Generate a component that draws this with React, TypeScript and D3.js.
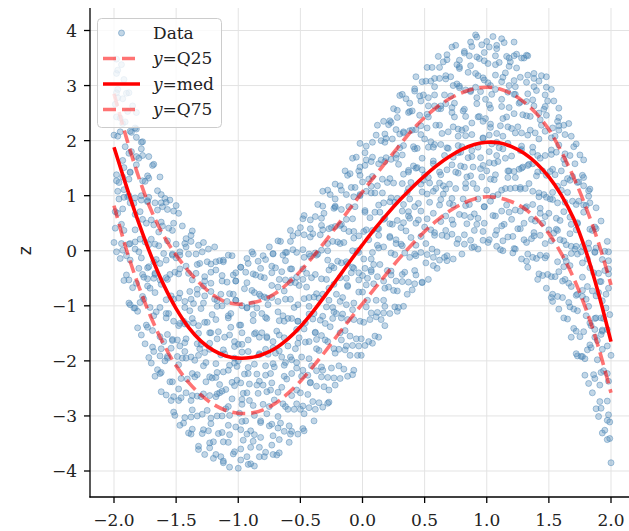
import React from "react";
import * as d3 from "d3";

const W = 629;
const H = 531;

const X_TICKS = [-2, -1.5, -1, -0.5, 0, 0.5, 1, 1.5, 2];
const Y_TICKS = [-4, -3, -2, -1, 0, 1, 2, 3, 4];

const CURVE_X = [
  -2.0, -1.9, -1.8, -1.7, -1.6, -1.5, -1.4, -1.3, -1.2, -1.1, -1.0, -0.9, -0.8, -0.7,
  -0.6, -0.5, -0.4, -0.3, -0.2, -0.1, 0.0, 0.1, 0.2, 0.3, 0.4, 0.5, 0.6, 0.7, 0.8, 0.9,
  1.0, 1.1, 1.2, 1.3, 1.4, 1.5, 1.6, 1.7, 1.8, 1.9, 2.0,
];
const MED = [
  1.88, 1.17, 0.5, -0.1, -0.62, -1.05, -1.39, -1.64, -1.81, -1.91, -1.95, -1.94, -1.88, -1.77,
  -1.6, -1.38, -1.11, -0.81, -0.5, -0.19, 0.11, 0.4, 0.67, 0.92, 1.15, 1.36, 1.55, 1.71, 1.84, 1.93,
  1.97, 1.96, 1.89, 1.77, 1.59, 1.34, 1.01, 0.58, -0.02, -0.78, -1.65,
];
const Q75 = [
  2.85, 2.05, 1.33, 0.73, 0.27, -0.08, -0.37, -0.61, -0.81, -0.93, -0.97, -0.95, -0.89, -0.77,
  -0.59, -0.37, -0.11, 0.17, 0.47, 0.77, 1.07, 1.36, 1.64, 1.92, 2.19, 2.42, 2.61, 2.76, 2.87, 2.94,
  2.97, 2.94, 2.85, 2.7, 2.49, 2.2, 1.8, 1.33, 0.78, 0.14, -0.62,
];
const Q25 = [
  0.82, 0.02, -0.65, -1.22, -1.7, -2.09, -2.39, -2.62, -2.79, -2.9, -2.95, -2.95, -2.89, -2.77,
  -2.59, -2.37, -2.11, -1.83, -1.53, -1.24, -0.96, -0.68, -0.4, -0.13, 0.12, 0.35, 0.55, 0.72, 0.85, 0.94,
  0.98, 0.96, 0.89, 0.77, 0.58, 0.31, -0.05, -0.5, -1.07, -1.76, -2.58,
];

// scatter data, in hundredths: x, z, x, z, ...
const POINTS_A = [
  -200,15, -199,71, -198,127, -200,210, -199,266, -198,322, -199,41, -198,287,
  -194,338, -197,293, -195,216, -193,134, -196,94, -194,13, -197,328, -195,241, -193,164, -196,124, -194,48, -195,-14,
  -190,-44, -188,130, -192,37, -191,234, -189,98, -190,286, -188,-95, -191,189, -192,97, -189,253, -190,-9, -188,100,
  -187,143, -184,-104, -186,215, -183,3, -185,263, -187,-17, -184,86, -183,38, -186,180, -185,-67, -183,223, -187,13,
  -179,-94, -182,156, -180,-2, -178,185, -181,-140, -179,71, -182,251, -180,-32, -178,100, -181,-110, -179,21, -180,168,
  -175,126, -173,-31, -177,198, -176,-88, -174,50, -175,-169, -173,89, -176,-48, -177,173, -174,-135, -175,16, -173,-51,
  -169,155, -172,97, -170,21, -168,-50, -171,-103, -169,-175, -172,132, -170,56, -168,-20, -171,-68, -169,-145, -170,-204,
  -165,-216, -163,-156, -167,-76, -166,-16, -164,34, -165,109, -163,-191, -166,-111, -167,-41, -164,9, -165,74, -163,134,
  -162,-61, -159,-200, -161,80, -158,-114, -160,-5, -162,-256, -159,95, -158,-89, -161,45, -160,-165, -158,-49, -162,-221,
  -154,-177, -157,75, -155,-238, -153,-6, -156,-114, -154,-82, -157,-195, -155,92, -153,-161, -156,41, -154,-272, -155,-43,
  -150,12, -148,-136, -152,-265, -151,-39, -149,-192, -150,82, -148,-86, -151,-299, -152,50, -149,-162, -150,-13, -148,-251,
  -147,-173, -144,-128, -146,-267, -143,13, -145,-195, -147,-33, -144,-313, -143,-92, -146,-232, -145,45, -143,-167, -147,-8,
  -140,-331, -138,-272, -142,-195, -141,-133, -139,-74, -140,-6, -138,-302, -141,-233, -142,-160, -139,-109, -140,-41, -138,28,
  -137,36, -134,-41, -136,-96, -133,-169, -135,-229, -137,-289, -134,-6, -133,-79, -136,-131, -135,-199, -133,-264, -137,-324,
  -129,-332, -132,-136, -130,-265, -128,-64, -131,-178, -129,-2, -132,-361, -130,-105, -128,-209, -131,-23, -129,-297, -130,-170,
  -125,-130, -123,-358, -127,-47, -126,-238, -124,3, -125,-290, -123,-168, -126,-203, -127,-82, -124,-327, -125,-20, -123,-263,
  -122,-314, -119,-88, -121,-231, -118,-35, -120,-377, -122,-149, -119,7, -118,-265, -121,-116, -120,-347, -118,-205, -122,-59,
  -114,-79, -117,-221, -115,-18, -113,-300, -116,-147, -114,-374, -117,-101, -115,-258, -113,-45, -116,-332, -114,-189, -115,-243,
  -112,-17, -109,-92, -111,-157, -108,-217, -110,-287, -112,-347, -109,-57, -108,-122, -111,-187, -110,-252, -108,-317, -112,-382,
  -104,-369, -107,-299, -105,-239, -103,-174, -106,-114, -104,-44, -107,-334, -105,-269, -103,-204, -106,-139, -104,-79, -105,-9,
  -100,-200, -98,-325, -102,-55, -101,-235, -99,-135, -100,-395, -98,-30, -101,-210, -102,-90, -99,-295, -100,-170, -98,-360,
  -97,-279, -94,-39, -96,-344, -93,-104, -95,-224, -97,-184, -94,-309, -93,-14, -96,-259, -95,-69, -93,-374, -97,-149,
  -89,-72, -92,-212, -90,-357, -88,-127, -91,-272, -89,-2, -92,-162, -90,-387, -88,-42, -91,-242, -89,-97, -90,-327,
  -85,-244, -83,-189, -87,-334, -86,-44, -84,-259, -85,-104, -83,-374, -86,-149, -87,-299, -84,-19, -85,-224, -83,-79,
  -79,-374, -82,-309, -80,-244, -78,-179, -81,-114, -79,-49, -82,-339, -80,-279, -78,-209, -81,-149, -79,-84, -80,-9,
  -75,7, -73,-63, -77,-123, -76,-188, -74,-253, -75,-318, -73,-28, -76,-98, -77,-158, -74,-223, -75,-283, -73,-353,
  -72,-336, -69,-146, -71,-271, -68,-66, -70,-186, -72,-6, -69,-371, -68,-111, -71,-211, -70,-31, -68,-301, -72,-176,
  -64,-118, -67,-343, -65,-38, -63,-228, -66,17, -64,-278, -67,-153, -65,-193, -63,-73, -66,-313, -64,-8, -65,-248,
  -60,-288, -58,-58, -62,-203, -61,-3, -59,-348, -60,-123, -58,37, -61,-233, -62,-88, -59,-318, -60,-173, -58,-33,
  -57,-33, -54,-178, -56,27, -53,-253, -55,-103, -57,-328, -54,-58, -53,-213, -56,2, -55,-288, -53,-143, -57,-198,
  -50,42, -48,-33, -52,-98, -51,-158, -49,-228, -50,-288, -48,2, -51,-63, -52,-128, -49,-193, -50,-258, -48,-323,
  -47,-296, -44,-226, -46,-166, -43,-101, -45,-41, -47,29, -44,-261, -43,-196, -46,-131, -45,-66, -43,-6, -47,64,
  -39,-114, -42,-239, -40,31, -38,-149, -41,-49, -39,-309, -42,56, -40,-124, -38,-4, -41,-209, -39,-84, -40,-274,
  -35,-181, -33,59, -37,-246, -36,-6, -34,-126, -35,-86, -33,-211, -36,84, -37,-161, -34,29, -35,-276, -33,-51,
  -32,38, -29,-102, -31,-247, -28,-17, -30,-162, -32,108, -29,-52, -28,-277, -31,68, -30,-132, -28,13, -32,-217,
  -24,-123, -27,-68, -25,-213, -23,77, -26,-138, -24,17, -27,-253, -25,-28, -23,-178, -26,102, -24,-103, -25,42,
  -22,-244, -19,-179, -21,-114, -18,-49, -20,16, -22,81, -19,-209, -18,-149, -21,-79, -20,-19, -18,46, -22,121,
  -14,145, -17,75, -15,15, -13,-50, -16,-115, -14,-180, -17,110, -15,40, -13,-20, -16,-85, -14,-145, -15,-215,
  -10,-190, -8,0, -12,-125, -11,80, -9,-40, -10,140, -8,-225, -11,35, -12,-65, -9,115, -10,-155, -8,-30,
  -7,35, -4,-190, -6,115, -3,-75, -5,170, -7,-125, -4,0, -3,-40, -6,80, -5,-160, -3,145, -7,-95,
  1,-130, -2,100, 0,-45, 2,155, -1,-190, 1,35, -2,195, 0,-75, 2,70, -1,-160, 1,-15, 0,125,
  5,130, 7,-15, 3,190, 4,-90, 6,60, 5,-165, 7,105, 4,-50, 3,165, 6,-125, 5,20, 7,-35,
  11,210, 8,135, 10,70, 12,10, 9,-60, 11,-120, 8,170, 10,105, 12,40, 9,-25, 11,-90, 10,-155,
  15,-125, 17,-55, 13,5, 14,70, 16,130, 15,200, 17,-90, 14,-25, 13,40, 16,105, 15,165, 17,235,
  18,59, 21,-66, 19,204, 22,24, 20,124, 18,-136, 21,229, 22,49, 19,169, 20,-36, 22,89, 18,-101,
  26,-7, 23,233, 25,-72, 27,168, 24,48, 26,88, 23,-37, 25,258, 27,13, 24,203, 26,-102, 25,123,
  30,212, 32,72, 28,-73, 29,157, 31,12, 30,282, 32,122, 29,-103, 28,242, 31,42, 30,187, 32,-43,
  33,51, 36,106, 34,-39, 37,251, 35,36, 33,191, 36,-79, 37,146, 34,-4, 35,276, 37,71, 33,216,
  40,-71, 42,-6, 38,59, 39,124, 41,189, 40,254, 42,-36, 39,24, 38,94, 41,154, 40,219, 42,294,
  43,316, 46,246, 44,186, 47,121, 45,56, 43,-9, 46,281, 47,211, 44,151, 45,86, 47,26, 43,-44,
  51,-22, 48,168, 50,43, 52,248, 49,128, 51,308, 48,-57, 50,203, 52,103, 49,283, 51,13, 50,138,
  55,198, 57,-27, 53,278, 54,88, 56,333, 55,38, 57,163, 54,123, 53,243, 56,3, 55,308, 57,68,
  58,28, 61,258, 59,113, 62,313, 60,-32, 58,193, 61,353, 62,83, 59,228, 60,-2, 62,143, 58,283,
  66,283, 63,138, 65,343, 67,63, 64,213, 66,-12, 63,258, 65,103, 67,318, 64,28, 66,173, 65,118,
  68,356, 71,281, 69,216, 72,156, 70,86, 68,26, 71,316, 72,251, 69,186, 70,121, 72,56, 68,-9,
  76,13, 73,83, 75,143, 77,208, 74,268, 76,338, 73,48, 75,113, 77,178, 74,243, 76,303, 75,373,
  80,189, 82,64, 78,334, 79,154, 81,254, 80,-6, 82,359, 79,179, 78,299, 81,94, 80,219, 82,29,
  83,114, 86,354, 84,49, 87,289, 85,169, 83,209, 86,84, 87,379, 84,134, 85,324, 87,19, 83,244,
  91,322, 88,182, 90,37, 92,267, 89,122, 91,392, 88,232, 90,7, 92,352, 89,152, 91,297, 90,67,
  95,149, 97,204, 93,59, 94,349, 96,134, 95,289, 97,19, 94,244, 93,94, 96,374, 95,169, 97,314,
  101,15, 98,80, 100,145, 102,210, 99,275, 101,340, 98,50, 100,110, 102,180, 99,240, 101,305, 100,380,
  105,389, 107,319, 103,259, 104,194, 106,129, 105,64, 107,354, 104,284, 103,224, 106,159, 105,99, 107,29,
  108,37, 111,227, 109,102, 112,307, 110,187, 108,367, 111,2, 112,262, 109,162, 110,342, 112,72, 108,197,
  116,243, 113,18, 115,323, 117,133, 114,378, 116,83, 113,208, 115,168, 117,288, 114,48, 116,353, 115,113,
  120,57, 122,284, 118,145, 119,343, 121,-4, 120,222, 122,379, 119,113, 118,260, 121,26, 120,172, 122,309,
  123,298, 126,148, 124,357, 127,72, 125,225, 123,3, 126,268, 127,112, 124,332, 125,40, 127,182, 123,133,
  130,350, 132,271, 128,214, 129,152, 131,78, 130,20, 132,306, 129,247, 128,184, 131,113, 130,50, 132,-19,
  133,-6, 136,57, 134,122, 137,179, 135,244, 133,319, 136,22, 137,84, 134,157, 135,219, 137,274, 133,354,
  141,143, 138,27, 140,291, 142,105, 139,214, 141,-52, 138,322, 140,136, 142,250, 139,54, 141,173, 140,-14,
  145,50, 147,283, 143,-8, 144,228, 146,102, 145,145, 147,13, 144,318, 143,77, 146,257, 145,-45, 147,173,
  148,246, 151,94, 149,-43, 152,175, 150,38, 148,316, 151,144, 152,-85, 149,272, 150,68, 152,205, 148,-9,
  156,39, 153,106, 155,-47, 157,235, 154,32, 156,179, 153,-79, 155,138, 157,-20, 154,272, 156,59, 155,208,
  158,-106, 161,-55, 159,20, 162,71, 160,145, 158,219, 161,-85, 162,-29, 159,55, 160,110, 162,166, 158,259,
  166,231, 163,176, 165,106, 167,31, 164,-19, 166,-94, 163,211, 165,131, 167,61, 164,11, 166,-59, 165,-124,
  170,-141, 172,38, 168,-65, 169,135, 171,3, 170,189, 172,-187, 169,90, 168,-5, 171,158, 170,-106, 172,8,
  173,51, 176,-192, 174,125, 177,-83, 175,174, 173,-109, 176,-2, 177,-48, 174,90, 175,-156, 177,137, 173,-79,
  181,-180, 178,70, 180,-88, 182,99, 179,-226, 181,-15, 178,165, 180,-118, 182,14, 179,-196, 181,-65, 180,82,
  185,37, 187,-123, 183,112, 184,-176, 186,-40, 185,-258, 187,-3, 184,-136, 183,87, 186,-225, 185,-73, 187,-143,
  191,-56, 188,5, 190,-76, 192,-152, 189,-198, 191,-274, 188,40, 190,-41, 192,-122, 189,-163, 191,-244, 190,-301,
  195,-326, 197,-273, 193,-179, 194,-123, 196,-79, 195,-1, 197,-308, 194,-218, 193,-144, 196,-104, 195,-36, 197,17,
  200,-385, 199,-311, 198,-237, 200,-190, 199,-116, 198,-42, 199,-341, 198,-2,
];

const POINTS_B = [
  -198,-2, -197,68, -198,138, -197,208, -197,278, -198,348, -197,108, -198,243,
  -192,311, -193,231, -192,151, -193,76, -193,1, -192,-54, -193,276, -192,111,
  -188,-53, -187,142, -188,12, -187,217, -187,87, -188,287, -187,-98, -188,177,
  -182,171, -183,-104, -182,221, -183,16, -183,96, -182,-59, -183,66, -182,206,
  -178,92, -177,-43, -178,197, -177,127, -177,57, -178,-13, -177,-83, -178,-153,
  -172,-29, -173,136, -172,-194, -173,-139, -173,-64, -172,11, -173,91, -172,171,
  -168,47, -167,-228, -168,157, -167,-43, -167,87, -168,-118, -167,12, -168,-183,
  -162,87, -163,-53, -162,-178, -163,-23, -163,-103, -162,102, -163,-223, -162,52,
  -158,-262, -157,-192, -158,-122, -157,-52, -157,18, -158,88, -157,-152, -158,-17,
  -152,72, -153,-8, -152,-88, -153,-163, -153,-238, -152,-293, -153,37, -152,-128,
  -148,-272, -147,-77, -148,-207, -147,-2, -147,-132, -148,68, -147,-317, -148,-42,
  -142,-28, -143,-303, -142,22, -143,-183, -143,-103, -142,-258, -143,-133, -142,7,
  -138,-88, -137,-223, -138,17, -137,-53, -137,-123, -138,-193, -137,-263, -138,-333,
  -132,-190, -133,-25, -132,-355, -133,-300, -133,-225, -132,-150, -133,-70, -132,10,
  -128,-95, -127,-370, -128,15, -127,-185, -127,-55, -128,-260, -127,-130, -128,-325,
  -122,-39, -123,-179, -122,-304, -123,-149, -123,-229, -122,-24, -123,-349, -122,-74,
  -118,-370, -117,-300, -118,-230, -117,-160, -117,-90, -118,-20, -117,-260, -118,-125,
  -112,-20, -113,-100, -112,-180, -113,-255, -113,-330, -112,-385, -113,-55, -112,-220,
  -108,-348, -107,-153, -108,-283, -107,-78, -107,-208, -108,-8, -107,-393, -108,-118,
  -102,-90, -103,-365, -102,-40, -103,-245, -103,-165, -102,-320, -103,-195, -102,-55,
  -98,-135, -97,-270, -98,-30, -97,-100, -97,-170, -98,-240, -97,-310, -98,-380,
  -92,-223, -93,-58, -92,-388, -93,-333, -93,-258, -92,-183, -93,-103, -92,-23,
  -88,-116, -87,-391, -88,-6, -87,-206, -87,-76, -88,-281, -87,-151, -88,-346,
  -82,-47, -83,-187, -82,-312, -83,-157, -83,-237, -82,-32, -83,-357, -82,-82,
  -78,-366, -77,-296, -78,-226, -77,-156, -77,-86, -78,-16, -77,-256, -78,-121,
  -72,-5, -73,-85, -72,-165, -73,-240, -73,-315, -72,-370, -73,-40, -72,-205,
  -68,-322, -67,-127, -68,-257, -67,-52, -67,-182, -68,18, -67,-367, -68,-92,
  -62,-53, -63,-328, -62,-3, -63,-208, -63,-128, -62,-283, -63,-158, -62,-18,
  -58,-88, -57,-223, -58,17, -57,-53, -57,-123, -58,-193, -57,-263, -58,-333,
  -52,-168, -53,-3, -52,-333, -53,-278, -53,-203, -52,-128, -53,-48, -52,32,
  -48,-52, -47,-327, -48,58, -47,-142, -47,-12, -48,-217, -47,-87, -48,-282,
  -42,25, -43,-115, -42,-240, -43,-85, -43,-165, -42,40, -43,-285, -42,-10,
  -38,-288, -37,-218, -38,-148, -37,-78, -37,-8, -38,62, -37,-178, -38,-43,
  -32,81, -33,1, -32,-79, -33,-154, -33,-229, -32,-284, -33,46, -32,-119,
  -28,-230, -27,-35, -28,-165, -27,40, -27,-90, -28,110, -27,-275, -28,0,
  -22,44, -23,-231, -22,94, -23,-111, -23,-31, -22,-186, -23,-61, -22,79,
  -18,13, -17,-122, -18,118, -17,48, -17,-22, -18,-92, -17,-162, -18,-232,
  -12,-63, -13,102, -12,-228, -13,-173, -13,-98, -12,-23, -13,57, -12,137,
  -8,58, -7,-217, -8,168, -7,-32, -7,98, -8,-107, -7,23, -8,-172,
  -2,137, -3,-3, -2,-128, -3,27, -3,-53, -2,152, -3,-173, -2,102,
  2,-172, 3,-102, 2,-32, 3,38, 3,108, 2,178, 3,-62, 2,73,
  8,197, 7,117, 8,37, 7,-38, 7,-113, 8,-168, 7,162, 8,-3,
  12,-112, 13,83, 12,-47, 13,158, 13,28, 12,228, 13,-157, 12,118,
  18,162, 17,-113, 18,212, 17,7, 17,87, 18,-68, 17,57, 18,197,
  22,131, 23,-4, 22,236, 23,166, 23,96, 22,26, 23,-44, 22,-114,
  28,55, 27,220, 28,-110, 27,-55, 27,20, 28,95, 27,175, 28,255,
  32,174, 33,-101, 32,284, 33,84, 33,214, 32,9, 33,139, 32,-56,
  38,253, 37,113, 38,-12, 37,143, 37,63, 38,268, 37,-57, 38,218,
  42,-60, 43,10, 42,80, 43,150, 43,220, 42,290, 43,50, 42,185,
  48,307, 47,227, 48,147, 47,72, 47,-3, 48,-58, 47,272, 48,107,
  52,-7, 53,188, 52,58, 53,263, 53,133, 52,333, 53,-52, 52,223,
  58,263, 57,-12, 58,313, 57,108, 57,188, 58,33, 57,158, 58,298,
  62,228, 63,93, 62,333, 63,263, 63,193, 62,123, 63,53, 62,-17,
  68,147, 67,312, 68,-18, 67,37, 67,112, 68,187, 67,267, 68,347,
  72,260, 73,-15, 72,370, 73,170, 73,300, 72,95, 73,225, 72,30,
  78,331, 77,191, 78,66, 77,221, 77,141, 78,346, 77,21, 78,296,
  82,12, 83,82, 82,152, 83,222, 83,292, 82,362, 83,122, 82,257,
  88,371, 87,291, 88,211, 87,136, 87,61, 88,6, 87,336, 88,171,
  92,48, 93,243, 92,113, 93,318, 93,188, 92,388, 93,3, 92,278,
  98,310, 97,35, 98,360, 97,155, 97,235, 98,80, 97,205, 98,345,
  102,265, 103,130, 102,370, 103,300, 103,230, 102,160, 103,90, 102,20,
  108,173, 107,338, 108,8, 107,63, 107,138, 108,213, 107,293, 108,373,
  112,275, 113,0, 112,385, 113,185, 113,315, 112,110, 113,240, 112,45,
  118,335, 117,195, 118,70, 117,225, 117,145, 118,350, 117,25, 118,300,
  122,4, 123,74, 122,144, 123,214, 123,284, 122,354, 123,114, 122,249,
  128,350, 127,270, 128,190, 127,115, 127,40, 128,-15, 127,315, 128,150,
  132,15, 133,210, 132,80, 133,285, 133,155, 132,355, 133,-30, 132,245,
  138,263, 137,-12, 138,313, 137,108, 137,188, 138,33, 137,158, 138,298,
  142,203, 143,68, 142,308, 143,238, 143,168, 142,98, 143,28, 142,-42,
  148,97, 147,262, 148,-68, 147,-13, 147,62, 148,137, 147,217, 148,297,
  152,183, 153,-92, 152,293, 153,93, 153,223, 152,18, 153,148, 152,-47,
  158,227, 157,87, 158,-38, 157,117, 157,37, 158,242, 157,-83, 158,192,
  162,-122, 163,-52, 162,18, 163,88, 163,158, 162,228, 163,-12, 162,123,
  168,208, 167,128, 168,48, 167,-27, 167,-102, 168,-157, 167,173, 168,8,
  172,-146, 173,49, 172,-81, 173,124, 173,-6, 172,194, 173,-191, 172,84,
  178,83, 177,-192, 178,133, 177,-72, 177,8, 178,-147, 177,-22, 178,118,
  182,4, 183,-131, 182,109, 183,39, 183,-31, 182,-101, 183,-171, 182,-241,
  188,-122, 187,43, 188,-287, 187,-232, 187,-157, 188,-82, 187,-2, 188,78,
  192,-56, 193,-331, 192,54, 193,-146, 193,-16, 192,-221, 193,-91, 192,-286,
  198,-33, 197,-173, 198,-298, 197,-143, 197,-223, 198,-18, 197,-343, 198,-68,
];

const LEGEND_LABELS = ["Data", "Q25", "med", "Q75"];

const POINT_COLOR = "#4682b4";
const RED = "#ff0000";

export default function App() {
  const x = d3.scaleLinear().domain([-2, 2]).range([114, 611]);
  const y = d3.scaleLinear().domain([-4, 4]).range([471, 30.5]);

  const plotLeft = 90;
  const plotRight = W;
  const plotTop = 8;
  const plotBottom = 497;

  const pts: [number, number][] = [];
  for (const arr of [POINTS_A, POINTS_B]) {
    for (let i = 0; i + 1 < arr.length; i += 2) {
      pts.push([arr[i] / 100, arr[i + 1] / 100]);
    }
  }

  const lineGen = (vals: number[]) =>
    d3
      .line<number>()
      .x((_, i) => x(CURVE_X[i]))
      .y((d) => y(d))
      .curve(d3.curveCatmullRom.alpha(0.5))(vals) || "";

  const serif = "'DejaVu Serif', serif";
  const fs = 17;

  const legendX = 97.5;
  const legendY = 18.5;
  const rowY = [33, 58.5, 84, 109.5];
  const handleX0 = 103;
  const handleX1 = 140;
  const textX = 153;

  return (
    <svg
      width={W}
      height={H}
      viewBox={`0 0 ${W} ${H}`}
      style={{ position: "absolute", left: 0, top: 0, background: "#fff" }}
    >
      <rect x={0} y={0} width={W} height={H} fill="#fff" />
      <defs>
        <clipPath id="plotclip">
          <rect x={plotLeft} y={plotTop} width={plotRight - plotLeft} height={plotBottom - plotTop} />
        </clipPath>
      </defs>

      {/* grid */}
      <g stroke="#e3e3e3" strokeWidth={1}>
        {X_TICKS.map((t) => (
          <line key={"gx" + t} x1={x(t)} x2={x(t)} y1={plotTop} y2={plotBottom} />
        ))}
        {Y_TICKS.map((t) => (
          <line key={"gy" + t} x1={plotLeft} x2={plotRight} y1={y(t)} y2={y(t)} />
        ))}
      </g>

      {/* scatter */}
      <g clipPath="url(#plotclip)">
        {pts.map((p, i) => (
          <circle
            key={i}
            cx={x(p[0])}
            cy={y(p[1])}
            r={3}
            fill={POINT_COLOR}
            fillOpacity={0.33}
            stroke={POINT_COLOR}
            strokeOpacity={0.45}
            strokeWidth={1}
          />
        ))}
      </g>

      {/* quantile curves */}
      <g clipPath="url(#plotclip)" fill="none">
        <path d={lineGen(Q25)} stroke={RED} strokeOpacity={0.55} strokeWidth={3.6} strokeDasharray="13 6" />
        <path d={lineGen(MED)} stroke={RED} strokeWidth={3.6} />
        <path d={lineGen(Q75)} stroke={RED} strokeOpacity={0.55} strokeWidth={3.6} strokeDasharray="13 6" />
      </g>

      {/* axes */}
      <g stroke="#000" strokeWidth={1.3}>
        <line x1={plotLeft} x2={plotLeft} y1={plotTop} y2={plotBottom + 0.6} />
        <line x1={plotLeft - 0.6} x2={plotRight} y1={plotBottom} y2={plotBottom} />
        {X_TICKS.map((t) => (
          <line key={"tx" + t} x1={x(t)} x2={x(t)} y1={plotBottom} y2={plotBottom + 6} />
        ))}
        {Y_TICKS.map((t) => (
          <line key={"ty" + t} x1={plotLeft - 6} x2={plotLeft} y1={y(t)} y2={y(t)} />
        ))}
      </g>
      <g fontFamily={serif} fontSize={fs} fill="#222">
        {X_TICKS.map((t) => (
          <text key={"lx" + t} x={x(t)} y={526} textAnchor="middle">
            {(t < 0 ? "\u2212" : "") + Math.abs(t).toFixed(1)}
          </text>
        ))}
        {Y_TICKS.map((t) => (
          <text key={"ly" + t} x={77} y={y(t)} dy="0.36em" textAnchor="end">
            {(t < 0 ? "\u2212" : "") + Math.abs(t)}
          </text>
        ))}
      </g>
      <text
        x={25}
        y={y(0)}
        transform={`rotate(-90 25 ${y(0)})`}
        textAnchor="middle"
        dy="0.35em"
        fontFamily="'DejaVu Sans', sans-serif"
        fontSize={17}
        fill="#222"
      >
        z
      </text>

      {/* legend */}
      <g>
        <rect
          x={legendX}
          y={legendY}
          width={124}
          height={109}
          rx={4}
          fill="#fff"
          fillOpacity={0.8}
          stroke="#cccccc"
          strokeWidth={1}
        />
        <circle
          cx={(handleX0 + handleX1) / 2}
          cy={rowY[0]}
          r={3}
          fill={POINT_COLOR}
          fillOpacity={0.33}
          stroke={POINT_COLOR}
          strokeOpacity={0.45}
        />
        <line x1={handleX0} x2={handleX1} y1={rowY[1]} y2={rowY[1]} stroke={RED} strokeOpacity={0.55} strokeWidth={3.6} strokeDasharray="13 6" />
        <line x1={handleX0} x2={handleX1} y1={rowY[2]} y2={rowY[2]} stroke={RED} strokeWidth={3.6} />
        <line x1={handleX0} x2={handleX1} y1={rowY[3]} y2={rowY[3]} stroke={RED} strokeOpacity={0.55} strokeWidth={3.6} strokeDasharray="13 6" />
        <g fontFamily={serif} fontSize={fs} fill="#222">
          {LEGEND_LABELS.map((lab, i) => (
            <text key={lab} x={textX} y={rowY[i]} dy="0.35em">
              {i === 0 ? (
                lab
              ) : (
                <>
                  <tspan fontStyle="italic">y</tspan>
                  {"=" + lab}
                </>
              )}
            </text>
          ))}
        </g>
      </g>
    </svg>
  );
}
